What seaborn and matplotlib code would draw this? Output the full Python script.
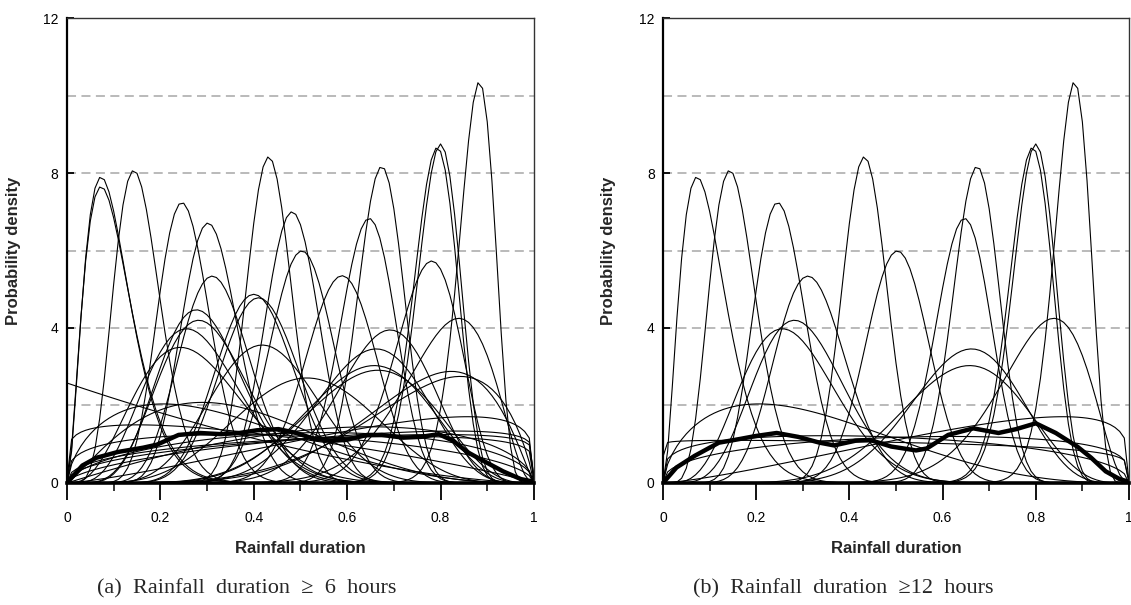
import math

import numpy as np
import pandas as pd
import matplotlib
matplotlib.use("Agg")
import matplotlib.pyplot as plt
from matplotlib.ticker import MultipleLocator
import seaborn as sns

#########################################################
# Data
#########################################################

# fitted beta densities, given by mode (x of the peak) and peak height
# panel (a) : rainfall duration >= 6 hours
a_mode = [0.073, 0.073, 0.143, 0.246, 0.302, 0.311, 0.277, 0.282, 0.256, 0.243,
          0.432, 0.482, 0.503, 0.400, 0.410, 0.418, 0.514, 0.674, 0.647, 0.589,
          0.781, 0.793, 0.800, 0.883, 0.839, 0.692, 0.662, 0.658, 0.666, 0.823,
          0.842, 0.000, 0.206, 0.290, 0.858, 0.830, 0.800, 0.550, 0.350, 0.650,
          0.720, 0.150]
a_peak = [7.90, 7.65, 8.07, 7.24, 6.71, 5.34, 4.47, 4.20, 3.98, 3.50,
          8.42, 7.00, 5.99, 4.87, 4.78, 3.56, 2.71, 8.17, 6.83, 5.35,
          5.73, 8.66, 8.75, 10.36, 4.25, 3.95, 3.46, 3.03, 2.91, 2.88,
          2.75, 2.58, 2.04, 2.08, 1.71, 1.34, 1.25, 1.30, 1.25, 1.45,
          1.20, 1.50]

# panel (b) : rainfall duration >= 12 hours
b_mode = [0.073, 0.143, 0.246, 0.311, 0.282, 0.256, 0.432, 0.503, 0.674, 0.647,
          0.793, 0.800, 0.883, 0.839, 0.662, 0.658, 0.206, 0.858, 0.350, 0.620,
          0.150]
b_peak = [7.90, 8.07, 7.24, 5.34, 4.20, 3.98, 8.42, 5.99, 8.17, 6.83,
          8.66, 8.75, 10.36, 4.25, 3.46, 3.03, 2.04, 1.71, 1.22, 1.20,
          1.10]

# thick curve: mean probability density
a_mean_x = [0.0, 0.033, 0.063, 0.109, 0.163, 0.193, 0.239, 0.285, 0.33, 0.369,
            0.407, 0.453, 0.491, 0.529, 0.567, 0.598, 0.643, 0.674, 0.72, 0.758,
            0.796, 0.827, 0.857, 0.895, 0.934, 0.972, 1.0]
a_mean_y = [0.0, 0.45, 0.65, 0.80, 0.91, 0.99, 1.24, 1.29, 1.26, 1.29,
            1.36, 1.39, 1.29, 1.14, 1.09, 1.11, 1.24, 1.24, 1.17, 1.19,
            1.26, 1.09, 0.80, 0.55, 0.30, 0.10, 0.03]

b_mean_x = [0.0, 0.029, 0.068, 0.12, 0.167, 0.198, 0.244, 0.29, 0.336, 0.367,
            0.413, 0.444, 0.49, 0.543, 0.566, 0.612, 0.666, 0.72, 0.758, 0.80,
            0.843, 0.889, 0.919, 0.95, 0.98, 1.0]
b_mean_y = [0.0, 0.40, 0.70, 1.04, 1.14, 1.21, 1.29, 1.19, 1.04, 0.97,
            1.09, 1.11, 0.94, 0.84, 0.89, 1.24, 1.41, 1.29, 1.39, 1.54,
            1.29, 0.94, 0.65, 0.30, 0.10, 0.03]

x_ticks = [0, 0.2, 0.4, 0.6, 0.8, 1]
x_tick_labels = ["0", "0.2", "0.4", "0.6", "0.8", "1"]
y_ticks = [0, 4, 8, 12]
grid_levels = [2, 4, 6, 8, 10]
captions = ["(a)  Rainfall  duration  \u2265  6  hours",
            "(b)  Rainfall  duration  \u226512  hours"]


#########################################################
# Beta density helpers
#########################################################

def beta_params(mode, peak):
    # concentration k so that beta(1 + mode*k, 1 + (1-mode)*k) peaks at `peak`
    def peak_of(k):
        a = 1 + mode * k
        b = 1 + (1 - mode) * k
        val = math.lgamma(a + b) - math.lgamma(a) - math.lgamma(b)
        if mode > 0:
            val += (a - 1) * math.log(mode)
        if mode < 1:
            val += (b - 1) * math.log(1 - mode)
        return math.exp(val)

    lo, hi = 0.0, 5000.0
    for _ in range(80):
        mid = (lo + hi) / 2
        if peak_of(mid) < peak:
            lo = mid
        else:
            hi = mid
    k = (lo + hi) / 2
    return 1 + mode * k, 1 + (1 - mode) * k


def beta_pdf(x, a, b):
    xc = np.clip(x, 1e-9, 1 - 1e-9)
    logc = math.lgamma(a + b) - math.lgamma(a) - math.lgamma(b)
    return np.exp(logc + (a - 1) * np.log(xc) + (b - 1) * np.log(1 - xc))


def curves_frame(modes, peaks):
    grid = np.linspace(0, 1, 101)
    rows = []
    for i, (m, h) in enumerate(zip(modes, peaks)):
        a, b = beta_params(m, h)
        rows.append(pd.DataFrame({"x": grid, "density": beta_pdf(grid, a, b), "curve": i}))
    return pd.concat(rows, ignore_index=True)


#########################################################
# Plot
#########################################################

sns.set_theme(style="white")
plt.rcParams["font.family"] = ["Liberation Sans", "DejaVu Sans"]

fig = plt.figure(figsize=(11.31, 6.05), dpi=100)
ax_a = fig.add_axes([0.0592, 0.2017, 0.4129, 0.7685])
ax_b = fig.add_axes([0.5862, 0.2017, 0.4120, 0.7685])

panels = [
    (ax_a, a_mode, a_peak, a_mean_x, a_mean_y, -0.098, 97),
    (ax_b, b_mode, b_peak, b_mean_x, b_mean_y, -0.100, 693),
]

for i, (ax, modes, peaks, mx, my, ylab_x, cap_px) in enumerate(panels):
    for lvl in grid_levels:
        ax.axhline(lvl, color="#b4b4b4", lw=1.3, ls=(0, (5, 3)), zorder=0)

    df = curves_frame(modes, peaks)
    sns.lineplot(data=df, x="x", y="density", units="curve", estimator=None,
                 color="black", lw=0.8, ax=ax, legend=False)

    mean_df = pd.DataFrame({"x": mx, "density": my})
    sns.lineplot(data=mean_df, x="x", y="density", color="black", lw=3.2,
                 ax=ax, legend=False)

    ax.set_xlim(0, 1)
    ax.set_ylim(0, 12)
    ax.set_xticks(x_ticks)
    ax.set_xticklabels(x_tick_labels)
    ax.xaxis.set_minor_locator(MultipleLocator(0.1))
    ax.set_yticks(y_ticks)
    ax.set_yticklabels([str(t) for t in y_ticks])

    ax.tick_params(axis="x", which="major", direction="out", length=12, width=1.3,
                   pad=8, labelsize=10, colors="black", bottom=True)
    ax.tick_params(axis="x", which="minor", direction="out", length=6, width=1.3,
                   bottom=True)
    ax.tick_params(axis="y", which="major", direction="in", length=5, width=1.3,
                   pad=6, labelsize=10, colors="black", left=True)

    for side in ["top", "right"]:
        ax.spines[side].set_linewidth(1.0)
        ax.spines[side].set_color("#333333")
    ax.spines["left"].set_linewidth(1.6)
    ax.spines["left"].set_color("black")
    ax.spines["bottom"].set_linewidth(2.6)
    ax.spines["bottom"].set_color("black")

    ax.set_xlabel("Rainfall duration", fontsize=12, fontweight="bold")
    ax.set_ylabel("Probability density", fontsize=12, fontweight="bold")
    ax.xaxis.set_label_coords(0.5, -0.125)
    ax.yaxis.set_label_coords(ylab_x, 0.5)

    fig.text(cap_px / 1131, 1 - 589 / 605, captions[i], ha="left", va="center",
             fontsize=16, family=["Liberation Serif", "DejaVu Serif"])

fig.savefig("out.png", dpi=100)
